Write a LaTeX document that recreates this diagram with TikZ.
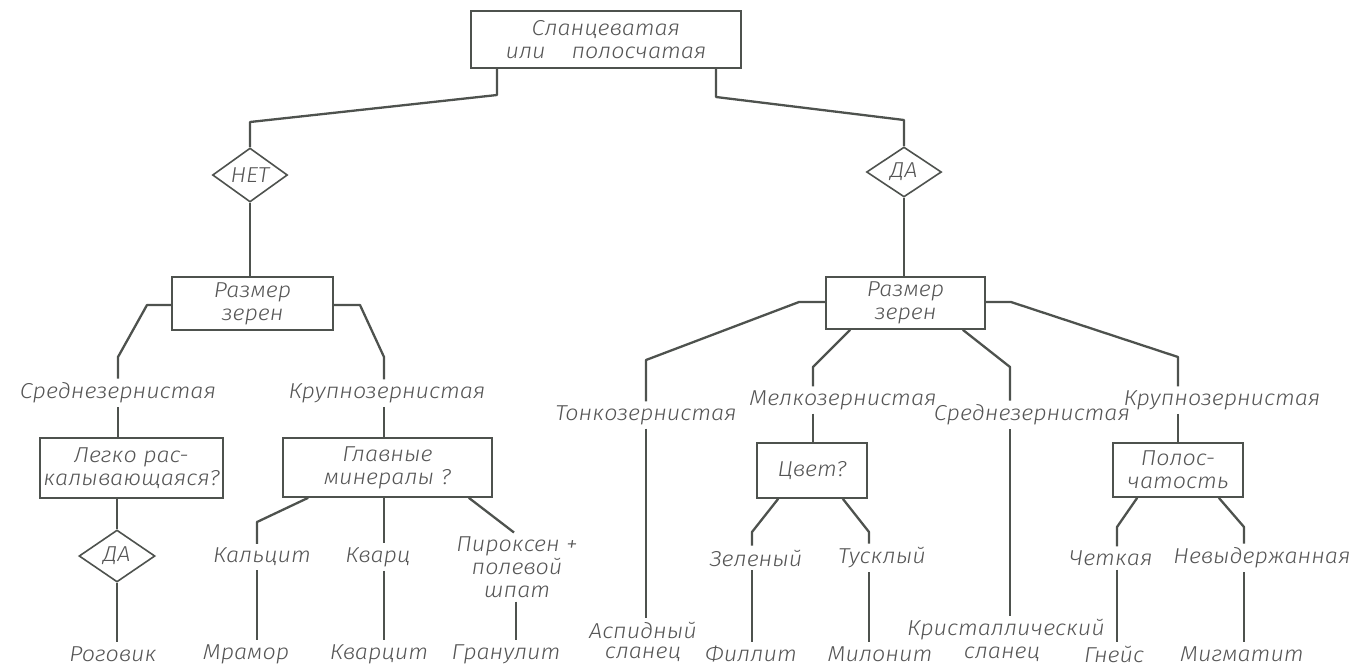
\documentclass[tikz,border=0pt]{standalone}
\usepackage{fontspec}
\newfontfamily\gost{Fira Sans Light Italic}[FakeStretch=1.08]
\usetikzlibrary{shapes.geometric,calc}
\definecolor{ink}{RGB}{78,82,78}
\definecolor{txt}{RGB}{85,85,85}
\begin{document}
\begin{tikzpicture}[x=0.5pt,y=-0.5pt,
  gfont/.style={font=\gost\fontsize{10.8}{11.5}\selectfont},
  box/.style={draw=ink,line width=0.8pt,rectangle,inner sep=0pt,align=center,text=txt,gfont},
  dia/.style={draw=ink,line width=0.8pt,diamond,inner sep=0pt,minimum width=37.5pt,minimum height=27pt},
  lbl/.style={text=txt,inner sep=1pt,outer sep=1pt,align=center,gfont},
  conn/.style={draw=ink,line width=1.15pt,line join=round}]
\useasboundingbox (0,0) rectangle (1353,670);
% boxes
\node[box,minimum width=135pt,minimum height=28.5pt] (top) at (606,39.5) {Сланцеватая\\или\hspace{1.2em}полосчатая};
\node[dia] (net) at (250,175) {};
\node[lbl] at (net) {НЕТ};
\node[dia,minimum height=25pt] (daT) at (904,172) {};
\node[lbl] at (daT) {ДА};
\node[box,minimum width=80.5pt,minimum height=26.5pt] (rL) at (252.5,303.5) {Размер\\зерен};
\node[box,minimum width=79.5pt,minimum height=26pt] (rR) at (905.5,303) {Размер\\зерен};
\node[box,minimum width=91.5pt,minimum height=30pt] (lg) at (131.5,468) {Легко рас-\\калывающаяся?};
\node[box,minimum width=104.5pt,minimum height=29.5pt] (gm) at (387.5,467.5) {Главные\\минералы ?};
\node[dia,minimum width=38pt,minimum height=26pt] (daS) at (117,556) {};
\node[lbl] at (daS) {ДА};
\node[box,minimum width=55pt,minimum height=27.5pt] (cv) at (812,470.5) {Цвет?};
\node[box,minimum width=65pt,minimum height=27pt] (pol) at (1178,470) {Полос-\\чатость};
% labels
\node[lbl] (srL) at (118,393) {Среднезернистая};
\node[lbl] (krL) at (387,393) {Крупнозернистая};
\node[lbl] (kal) at (262,557) {Кальцит};
\node[lbl] (kva) at (378,557) {Кварц};
\node[lbl] (pir) at (517,567) {Пироксен +\\полевой\\шпат};
\node[lbl] (rog) at (113,654) {Роговик};
\node[lbl] (mra) at (246,654) {Мрамор};
\node[lbl] (kvc) at (379,654) {Кварцит};
\node[lbl] (gra) at (506,654) {Гранулит};
\node[lbl] (tk) at (646,415) {Тонкозернистая};
\node[lbl] (mk) at (843,400) {Мелкозернистая};
\node[lbl] (srR) at (1032,415) {Среднезернистая};
\node[lbl] (krR) at (1222,400) {Крупнозернистая};
\node[lbl] (zel) at (756,558) {Зеленый};
\node[lbl] (tus) at (882,558) {Тусклый};
\node[lbl] (chet) at (1111,558) {Четкая};
\node[lbl] (nev) at (1262,558) {Невыдержанная};
\node[lbl] (asp) at (643,630) {Аспидный};
\node[lbl] (asp2) at (643,654) {сланец};
\node[lbl] (kri) at (1006,630) {Кристаллический};
\node[lbl] (kri2) at (1002,654) {сланец};
\node[lbl] (fil) at (751,654) {Филлит};
\node[lbl] (mil) at (880,654) {Милонит};
\node[lbl] (gne) at (1114,654) {Гнейс};
\node[lbl] (mig) at (1242,654) {Мигматит};
% bend points
\coordinate (a1) at (497,95);  \coordinate (a2) at (250,122);
\coordinate (b1) at (716,97);  \coordinate (b2) at (904,120);
\coordinate (c1) at (147,305); \coordinate (c2) at (118,357);
\coordinate (d1) at (360,305); \coordinate (d2) at (384,357);
\coordinate (e1) at (257,522); \coordinate (f1) at (384,540);
\coordinate (g1) at (514,530); \coordinate (g2) at (516,600);
\coordinate (h1) at (799,302); \coordinate (h2) at (646,360);
\coordinate (i1) at (813,367); \coordinate (j1) at (1010,367);
\coordinate (k1) at (1011,302); \coordinate (k2) at (1178,357);
\coordinate (l1) at (752,532); \coordinate (m1) at (869,532);
\coordinate (n1) at (1117,527); \coordinate (o1) at (1244,527);
% connectors
\draw[conn] (top.south -| a1) -- (a1) -- (a2) -- (net.north);
\draw[conn] (top.south -| b1) -- (b1) -- (b2) -- (daT.north);
\draw[conn] (net.south) -- (net.south |- rL.north);
\draw[conn] (daT.south) -- (daT.south |- rR.north);
\draw[conn] (rL.west |- c1) -- (c1) -- (c2) -- (srL.north -| c2);
\draw[conn] (srL.south -| c2) -- (lg.north -| c2);
\draw[conn] (rL.east |- d1) -- (d1) -- (d2) -- (krL.north -| d2);
\draw[conn] (krL.south -| d2) -- (gm.north -| d2);
\draw[conn] (daS.north |- lg.south) -- (daS.north);
\draw[conn] (daS.south) -- (rog.north -| daS.south);
\draw[conn] ($(gm.south west)+(26,0)$) -- (e1) -- (kal.north -| e1);
\draw[conn] (kal.south -| e1) -- (mra.north -| e1);
\draw[conn] (gm.south -| f1) -- (kva.north -| f1);
\draw[conn] (kva.south -| f1) -- (kvc.north -| f1);
\draw[conn] ($(gm.south east)+(-24,0)$) -- (pir.north -| g1);
\draw[conn] (pir.south -| g2) -- (gra.north -| g2);
\draw[conn] (rR.west |- h1) -- (h1) -- (h2) -- (tk.north -| h2);
\draw[conn] (tk.south -| h2) -- (asp.north -| h2);
\draw[conn] ($(rR.south west)+(25,0)$) -- (i1) -- (mk.north -| i1);
\draw[conn] (mk.south -| i1) -- (cv.north -| i1);
\draw[conn] ($(rR.south east)+(-23,0)$) -- (j1) -- (srR.north -| j1);
\draw[conn] (srR.south -| j1) -- (kri.north -| j1);
\draw[conn] (rR.east |- k1) -- (k1) -- (k2) -- (krR.north -| k2);
\draw[conn] (krR.south -| k2) -- (pol.north -| k2);
\draw[conn] ($(cv.south west)+(22,0)$) -- (l1) -- (zel.north -| l1);
\draw[conn] (zel.south -| l1) -- (fil.north -| l1);
\draw[conn] ($(cv.south east)+(-25,0)$) -- (m1) -- (tus.north -| m1);
\draw[conn] (tus.south -| m1) -- (mil.north -| m1);
\draw[conn] ($(pol.south west)+(25,0)$) -- (n1) -- (chet.north -| n1);
\draw[conn] (chet.south -| n1) -- (gne.north -| n1);
\draw[conn] ($(pol.south east)+(-25,0)$) -- (o1) -- (nev.north -| o1);
\draw[conn] (nev.south -| o1) -- (mig.north -| o1);
\end{tikzpicture}
\end{document}
